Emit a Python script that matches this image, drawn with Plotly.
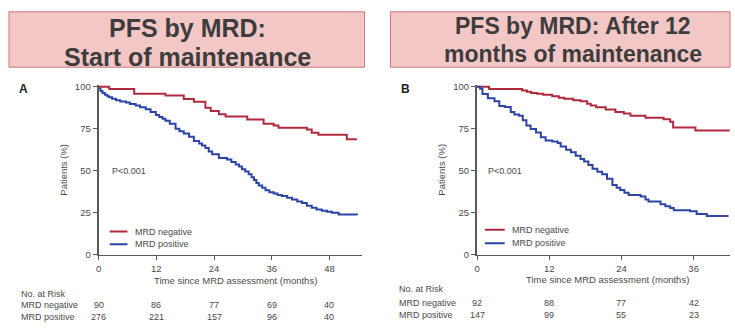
import plotly.graph_objects as go

W, H = 735, 328

# ---------------- data ----------------
titles_A = ["PFS by MRD:", "Start of maintenance"]
titles_B = ["PFS by MRD: After 12", "months of maintenance"]
series_names = ["MRD negative", "MRD positive"]

A_neg_t = [0, 2.2, 7.4, 13.9, 17.7, 19.8, 22.2, 23.3, 25.0, 26.4, 30.9, 34.3, 36.4, 37.4, 43.3, 44.3, 45.7, 51.6, 53.7]
A_neg_s = [100, 98.7, 95.8, 94.8, 92.7, 91.0, 87.5, 85.6, 83.7, 82.3, 80.5, 78.0, 77.0, 75.6, 74.5, 72.7, 71.5, 68.8, 68.8]

A_pos_t = [0, 0.4, 0.8, 1.3, 1.8, 2.2, 2.8, 3.6, 4.5, 5.7, 6.5, 7.7, 8.6, 9.8, 10.8, 11.9, 12.6, 13.3, 13.9,
           14.8, 16.0, 16.8, 17.7, 18.8, 19.8, 20.9, 21.5, 22.2, 22.9, 23.6, 25.0, 26.7, 27.6, 28.5, 29.2,
           29.8, 30.5, 31.2, 31.8, 32.3, 32.8, 33.3, 34.0, 34.7, 35.5, 36.4, 37.2, 38.1, 39.2, 40.2, 41.3,
           42.3, 43.3, 44.3, 45.3, 46.4, 47.5, 48.5, 49.9, 53.7]
A_pos_s = [99.0, 97.5, 96.3, 95.2, 94.4, 93.8, 92.8, 91.9, 91.2, 90.6, 89.8, 88.8, 87.8, 86.6, 85.0, 83.2, 82.0,
           81.0, 79.8, 78.0, 75.0, 73.6, 72.2, 70.2, 67.8, 66.2, 65.0, 63.5, 61.5, 59.8, 57.7, 56.7, 55.3,
           53.8, 52.5, 51.0, 49.6, 48.0, 46.2, 44.5, 42.8, 41.3, 40.0, 38.5, 37.3, 36.5, 35.6, 35.0, 34.0,
           33.0, 31.8, 30.8, 29.3, 28.0, 27.0, 26.3, 25.6, 25.0, 24.0, 23.6]

B_neg_t = [0, 2.0, 7.5, 8.3, 9.0, 10.0, 11.0, 12.5, 13.6, 14.5, 16.0, 17.2, 18.3, 18.9, 19.8, 21.4, 23.0,
           24.4, 25.5, 28.0, 31.0, 32.1, 32.6, 36.3, 42.0]
B_neg_s = [100, 98.6, 97.7, 97.0, 96.3, 95.8, 95.3, 94.4, 93.5, 92.8, 92.0, 91.3, 89.9, 88.8, 87.8, 86.4,
           85.0, 84.1, 82.7, 81.6, 80.6, 79.2, 75.8, 74.0, 74.0]

B_pos_t = [0, 0.5, 0.9, 1.8, 2.9, 3.7, 4.6, 5.6, 6.2, 7.0, 7.6, 8.2, 8.9, 9.8, 10.6, 11.4, 12.5, 13.4, 13.9,
           14.8, 15.6, 16.4, 17.2, 17.8, 18.5, 19.2, 20.0, 20.8, 21.6, 22.5, 23.2, 23.8, 24.5, 25.2, 27.2,
           28.0, 28.5, 30.5, 31.3, 32.1, 32.7, 35.4, 36.5, 38.2, 41.8]
B_pos_s = [100, 98.8, 95.7, 93.2, 91.3, 88.5, 88.0, 85.0, 83.5, 82.7, 80.0, 77.0, 74.8, 72.8, 69.9, 68.0,
           67.5, 66.6, 64.5, 62.5, 61.0, 59.0, 57.0, 55.5, 53.5, 51.2, 49.5, 48.0, 45.3, 41.5, 40.0, 38.6,
           37.0, 35.7, 34.7, 33.0, 31.8, 30.2, 29.0, 27.9, 26.6, 26.0, 24.4, 23.1, 23.1]

A_ticks = [0, 12, 24, 36, 48]
B_ticks = [0, 12, 24, 36]
y_ticks = [0, 25, 50, 75, 100]
A_risk_neg = [90, 86, 77, 69, 40]
A_risk_pos = [276, 221, 157, 96, 40]
B_risk_neg = [92, 88, 77, 42]
B_risk_pos = [147, 99, 55, 23]

# ---------------- style ----------------
RED = "#b02a3e"
BLUE = "#2b44a6"
AXC = "#5a5a5a"
TXT = "#4a4a4a"
FONT = "Liberation Sans, Arial, sans-serif"

def px(x):
    return x / W

def py(y):
    return 1 - y / H

fig = go.Figure()

for name, t, s, col, xa, ya in [
    (series_names[0], A_neg_t, A_neg_s, RED, "x", "y"),
    (series_names[1], A_pos_t, A_pos_s, BLUE, "x", "y"),
    (series_names[0], B_neg_t, B_neg_s, RED, "x2", "y2"),
    (series_names[1], B_pos_t, B_pos_s, BLUE, "x2", "y2"),
]:
    fig.add_trace(go.Scatter(x=t, y=s, mode="lines", line=dict(color=col, width=2, shape="hv"),
                             name=name, xaxis=xa, yaxis=ya, showlegend=False, hoverinfo="skip"))

ydom = [py(258), py(83)]
yrange = [0, 101.2]
axis_common = dict(showgrid=False, zeroline=False, showline=True, linecolor=AXC, linewidth=1.5,
                   ticks="outside", ticklen=4, tickcolor=AXC, tickwidth=1,
                   tickfont=dict(family=FONT, size=9.5, color=TXT))

fig.update_layout(
    width=W, height=H, margin=dict(l=0, r=0, t=0, b=0),
    paper_bgcolor="white", plot_bgcolor="white",
    xaxis=dict(domain=[px(96), px(360)], range=[0, 54.66], tickvals=A_ticks, anchor="y", **axis_common),
    yaxis=dict(domain=ydom, range=yrange, tickvals=y_ticks, anchor="x",
               title=dict(text="Patients (%)", font=dict(family=FONT, size=9.5, color=TXT), standoff=6),
               **axis_common),
    xaxis2=dict(domain=[px(476), px(730)], range=[0, 42.05], tickvals=B_ticks, anchor="y2", **axis_common),
    yaxis2=dict(domain=ydom, range=yrange, tickvals=y_ticks, anchor="x2",
                title=dict(text="Patients (%)", font=dict(family=FONT, size=9.5, color=TXT), standoff=6),
                **axis_common),
    showlegend=False,
)
fig.update_yaxes(linewidth=2)

shapes = []
ann = []

# title boxes
for (x0, x1, lines, cx, ys, anchors, fs) in [
    (6, 363, titles_A, 185, [25, 55], ["middle", "middle"], 25),
    (389, 730, titles_B, 572, [37, 37], ["bottom", "top"], 23),
]:
    shapes.append(dict(type="rect", xref="paper", yref="paper", x0=px(x0), x1=px(x1), y0=py(65), y1=py(8),
                       fillcolor="#f4c7c7", line=dict(color="#c97a7a", width=1), layer="below"))
    for txt, yy, anc in zip(lines, ys, anchors):
        ann.append(dict(text="<b>%s</b>" % txt, xref="paper", yref="paper", x=px(cx), y=py(yy),
                        showarrow=False, xanchor="center", yanchor=anc, borderpad=0,
                        font=dict(family=FONT, size=fs, color="#3d3d3d")))

# panel letters
ann.append(dict(text="<b>A</b>", xref="paper", yref="paper", x=px(14), y=py(87), showarrow=False,
                xanchor="left", yanchor="middle", font=dict(family=FONT, size=12, color="#222")))
ann.append(dict(text="<b>B</b>", xref="paper", yref="paper", x=px(398), y=py(87), showarrow=False,
                xanchor="left", yanchor="middle", font=dict(family=FONT, size=12, color="#222")))

# p-values
ann.append(dict(text="P<0.001", xref="x", yref="y", x=2.3, y=50, showarrow=False, xanchor="left",
                yanchor="middle", font=dict(family=FONT, size=9, color=TXT)))
ann.append(dict(text="P<0.001", xref="x2", yref="y2", x=1.5, y=50, showarrow=False, xanchor="left",
                yanchor="middle", font=dict(family=FONT, size=9, color=TXT)))

# legends
for xr, yr, lx0, lx1, tx, yv in [("x", "y", 2.3, 6.0, 7.2, [13.9, 6.4]), ("x2", "y2", 1.3, 4.6, 5.5, [15.0, 7.0])]:
    for nm, col, yy in zip(series_names, [RED, BLUE], yv):
        shapes.append(dict(type="line", xref=xr, yref=yr, x0=lx0, x1=lx1, y0=yy, y1=yy,
                           line=dict(color=col, width=2)))
        ann.append(dict(text=nm, xref=xr, yref=yr, x=tx, y=yy, showarrow=False, xanchor="left",
                        yanchor="middle", font=dict(family=FONT, size=9, color=TXT)))

# x-axis titles
ann.append(dict(text="Time since MRD assessment (months)", xref="paper", yref="paper", x=px(233), y=py(284),
                showarrow=False, xanchor="center", yanchor="middle", font=dict(family=FONT, size=9.5, color=TXT)))
ann.append(dict(text="Time since MRD assessment (months)", xref="paper", yref="paper", x=px(607), y=py(283),
                showarrow=False, xanchor="center", yanchor="middle", font=dict(family=FONT, size=9.5, color=TXT)))

# risk tables
def risk_table(xr, lx, ys, ticks, neg, pos):
    labels = ["No. at Risk", series_names[0], series_names[1]]
    for lab, yy in zip(labels, ys):
        ann.append(dict(text=lab, xref="paper", yref="paper", x=px(lx), y=py(yy), showarrow=False,
                        xanchor="left", yanchor="middle", font=dict(family=FONT, size=9, color=TXT)))
    for row, yy in zip([neg, pos], ys[1:]):
        for t, v in zip(ticks, row):
            ann.append(dict(text=str(v), xref=xr, yref="paper", x=t, y=py(yy), showarrow=False,
                            xanchor="center", yanchor="middle", font=dict(family=FONT, size=9, color=TXT)))

risk_table("x", 16, [298, 310, 322], A_ticks, A_risk_neg, A_risk_pos)
risk_table("x2", 396, [293, 307, 320], B_ticks, B_risk_neg, B_risk_pos)

fig.update_layout(shapes=shapes, annotations=ann)
fig.write_html("out.html", config={"displayModeBar": False, "staticPlot": True},
               post_script="document.body.style.margin='0';document.body.style.padding='0';"
                           "document.body.style.overflow='hidden';")
